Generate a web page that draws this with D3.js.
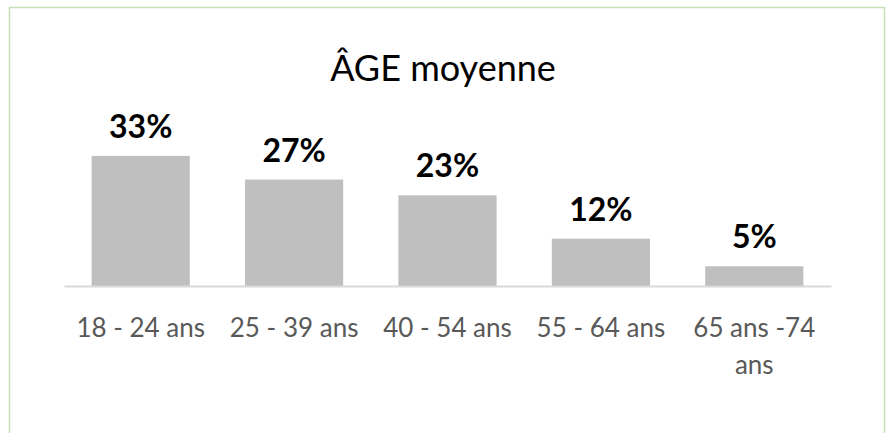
<!DOCTYPE html>
<html>
<head>
<meta charset="utf-8">
<script src="https://cdn.jsdelivr.net/npm/d3@7"></script>
<style>
  body { margin: 0; background: #fff; }
  svg { display: block; font-family: "Gill Sans MT", "Gill Sans", Lato, sans-serif; }
</style>
</head>
<body>
<svg id="chart"></svg>
<script>
const titre = 'ÂGE moyenne'
const categories = ['18 - 24 ans', '25 - 39 ans', '40 - 54 ans', '55 - 64 ans', '65 ans -74 ans']
const valeurs = [33, 27, 23, 12, 5]
const yMax = 35

const w = 886, h = 433

const svg = d3.select('#chart')
  .attr('width', w)
  .attr('height', h)

// cadre vert (coupé en bas)
svg.append('rect')
  .attr('x', 9.5)
  .attr('y', 7.5)
  .attr('width', 875)
  .attr('height', 500)
  .attr('fill', '#fff')
  .attr('stroke', '#C5E0B4')
  .attr('stroke-width', 1.5)

const xScale = d3.scaleBand()
  .domain(categories)
  .range([64, 831])
  .paddingInner(0.36)
  .paddingOuter(0.18)

const yScale = d3.scaleLinear()
  .domain([0, yMax])
  .range([286, 148])

svg.append('text')
  .attr('x', 443)
  .attr('y', 81)
  .attr('text-anchor', 'middle')
  .attr('font-size', 36)
  .attr('fill', '#000')
  .text(titre)

svg.selectAll('.barre')
  .data(valeurs)
  .enter()
  .append('rect')
    .attr('class', 'barre')
    .attr('x', (d, i) => xScale(categories[i]))
    .attr('y', d => yScale(d))
    .attr('width', xScale.bandwidth())
    .attr('height', d => yScale(0) - yScale(d))
    .attr('fill', '#BFBFBF')

svg.selectAll('.etiquette')
  .data(valeurs)
  .enter()
  .append('text')
    .attr('class', 'etiquette')
    .attr('x', (d, i) => xScale(categories[i]) + xScale.bandwidth() / 2)
    .attr('y', d => yScale(d) - 18)
    .attr('text-anchor', 'middle')
    .attr('font-size', 32)
    .attr('font-weight', 'bold')
    .attr('fill', '#000')
    .text(d => d + '%')

// axe horizontal
const xAxis = d3.axisBottom(xScale).tickSize(0).tickPadding(0)
const gx = svg.append('g')
  .attr('transform', `translate(0,${yScale(0)})`)
  .call(xAxis)
gx.select('.domain').attr('stroke', '#D9D9D9').attr('stroke-width', 2)
gx.selectAll('.tick text').remove()

// libellés avec retour à la ligne
const maxW = xScale.step()
categories.forEach(c => {
  const t = svg.append('text')
    .attr('x', xScale(c) + xScale.bandwidth() / 2)
    .attr('y', 337)
    .attr('text-anchor', 'middle')
    .attr('font-size', 26)
    .attr('fill', '#595959')
  const mots = c.split(' ')
  let ligne = []
  let ts = t.append('tspan').attr('x', xScale(c) + xScale.bandwidth() / 2)
  mots.forEach(m => {
    ligne.push(m)
    ts.text(ligne.join(' '))
    if (ts.node().getComputedTextLength() > maxW && ligne.length > 1) {
      ligne.pop()
      ts.text(ligne.join(' '))
      ligne = [m]
      ts = t.append('tspan')
        .attr('x', xScale(c) + xScale.bandwidth() / 2)
        .attr('dy', 37)
        .text(m)
    }
  })
})
</script>
</body>
</html>
